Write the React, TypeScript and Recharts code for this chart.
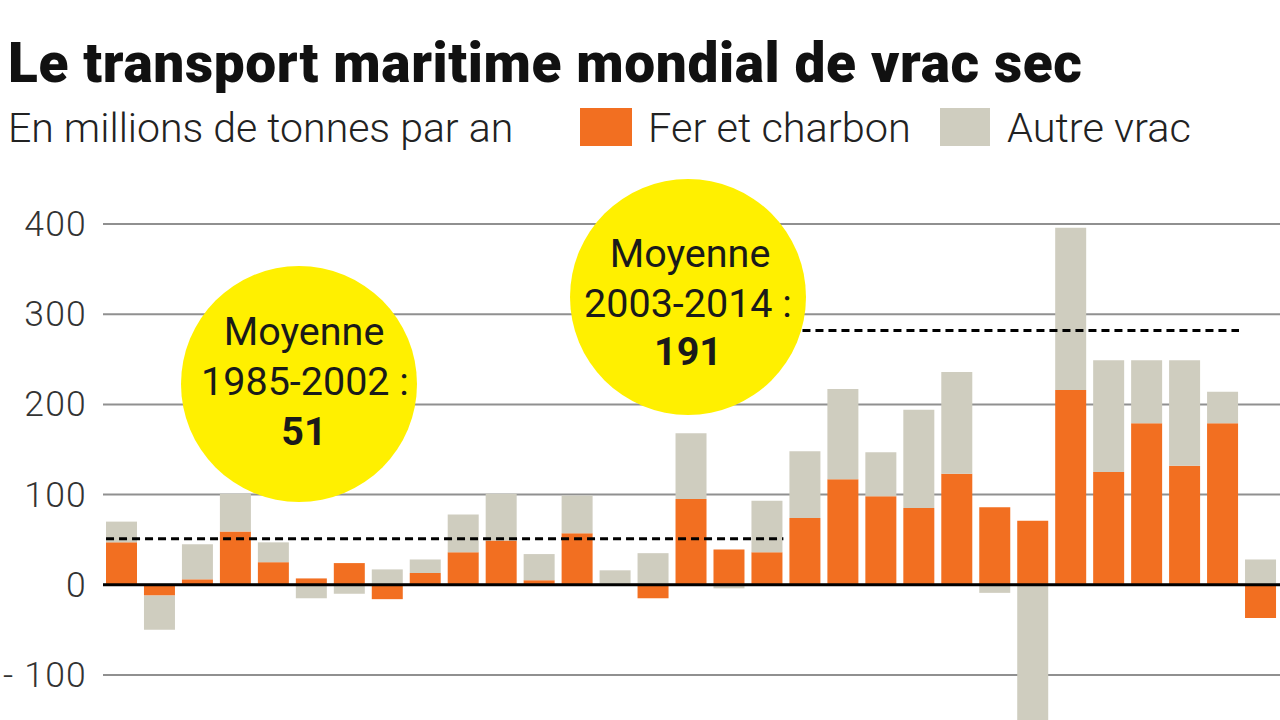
import { BarChart, Bar, XAxis, YAxis, CartesianGrid, ReferenceLine } from 'recharts'

// Millions de tonnes par an, variation annuelle
const years = [
  '1985', '1986', '1987', '1988', '1989', '1990', '1991', '1992', '1993', '1994', '1995',
  '1996', '1997', '1998', '1999', '2000', '2001', '2002', '2003', '2004', '2005', '2006',
  '2007', '2008', '2009', '2010', '2011', '2012', '2013', '2014', '2015',
]
const ferCharbon = [
  47, -12, 6, 59, 25, 7, 24, -16, 13, 36, 49, 5, 57, 0, -15, 95, 39, 36,
  74, 117, 98, 85, 123, 86, 71, 216, 125, 179, 132, 179, -37,
]
const autreVrac = [
  23, -38, 39, 42, 22, -15, -10, 17, 15, 42, 52, 29, 42, 16, 35, 73, -4, 57,
  74, 100, 49, 109, 113, -9, -160, 180, 124, 70, 117, 35, 28,
]
const yTicks = [-100, 0, 100, 200, 300, 400]

// periodes moyennes : debut, fin, niveau du trait, valeur affichee
const periods = [
  { from: '1985', to: '2002', level: 51, label: '51' },
  { from: '2003', to: '2014', level: 282, label: '191' },
]

const series = [
  { key: 'fer', name: 'Fer et charbon', color: '#f26f21' },
  { key: 'autre', name: 'Autre vrac', color: '#cfcdbf' },
]

const data = years.map((y, i) => ({ year: y, fer: ferCharbon[i], autre: autreVrac[i] }))

const FONT = 'Roboto, sans-serif'

const YTick = (props: any) => {
  const { y, payload } = props
  const v = payload.value
  return (
    <text x={87} y={y} dy={12} textAnchor="end" fontFamily={FONT} fontWeight={300}
      fontSize={35.5} letterSpacing={1.2} fill="#333">
      {v < 0 ? `- ${-v}` : v}
    </text>
  )
}

// dotted average line stretched to the outer edges of the first/last bar
const makeAvgShape = (count: number) => (p: any) => {
  const ext = ((p.x2 - p.x1) / (count - 1)) * 0.42
  return (
    <line x1={p.x1 - ext} x2={p.x2 + ext} y1={p.y1} y2={p.y2}
      stroke="#000" strokeWidth={3} strokeDasharray="8 5" />
  )
}

export default function App() {
  return (
    <div style={{ position: 'absolute', left: 0, top: 0, width: 1280, height: 720, background: '#fff', overflow: 'hidden' }}>
      <div style={{ position: 'absolute', left: 0, top: 186 }}>
        <BarChart width={1280} height={534} data={data} stackOffset="sign"
          margin={{ top: 20, right: 0, bottom: 0, left: 0 }} barSize={31}>
          <XAxis dataKey="year" hide />
          <YAxis type="number" domain={[-150, 420]} ticks={yTicks} allowDataOverflow
            width={103} axisLine={false} tickLine={false} tick={<YTick />} />
          {series.map(s => (
            <Bar key={s.key} dataKey={s.key} name={s.name} stackId="a" fill={s.color} isAnimationActive={false} />
          ))}
          <CartesianGrid vertical={false} horizontalValues={yTicks} syncWithTicks
            stroke="#555" strokeOpacity={0.65} strokeWidth={2} />
          <ReferenceLine y={0} stroke="#000" strokeWidth={3} />
          {periods.map(p => {
            const count = years.indexOf(p.to) - years.indexOf(p.from) + 1
            return (
              <ReferenceLine key={p.from} segment={[{ x: p.from, y: p.level }, { x: p.to, y: p.level }]}
                shape={makeAvgShape(count)} />
            )
          })}
        </BarChart>
      </div>
      <svg width={1280} height={720} style={{ position: 'absolute', left: 0, top: 0, pointerEvents: 'none' }}>
        <text x={8} y={82} fontFamily={FONT} fontWeight={900} fontSize={55} letterSpacing={0.6} fill="#111">
          Le transport maritime mondial de vrac sec
        </text>
        <text x={8} y={142} fontFamily={FONT} fontWeight={300} fontSize={41} fill="#222">
          En millions de tonnes par an
        </text>
        <rect x={580} y={108} width={52} height={38} fill={series[0].color} />
        <text x={648} y={142} fontFamily={FONT} fontWeight={300} fontSize={41.5} fill="#222">{series[0].name}</text>
        <rect x={940} y={108} width={50} height={38} fill={series[1].color} />
        <text x={1007} y={142} fontFamily={FONT} fontWeight={300} fontSize={41.5} fill="#222">{series[1].name}</text>

        <circle cx={299} cy={384} r={118} fill="#fff000" />
        <g fontFamily={FONT} fontSize={39.5} fill="#1a1a1a" textAnchor="middle">
          <text x={304} y={345}>Moyenne</text>
          <text x={305} y={395}>1985-2002 :</text>
          <text x={304} y={445} fontWeight={700}>{periods[0].label}</text>
        </g>
        <circle cx={688} cy={297} r={118} fill="#fff000" />
        <g fontFamily={FONT} fontSize={39.5} fill="#1a1a1a" textAnchor="middle">
          <text x={690} y={267}>Moyenne</text>
          <text x={688} y={317}>2003-2014 :</text>
          <text x={688} y={365} fontWeight={700}>{periods[1].label}</text>
        </g>
      </svg>
    </div>
  )
}
